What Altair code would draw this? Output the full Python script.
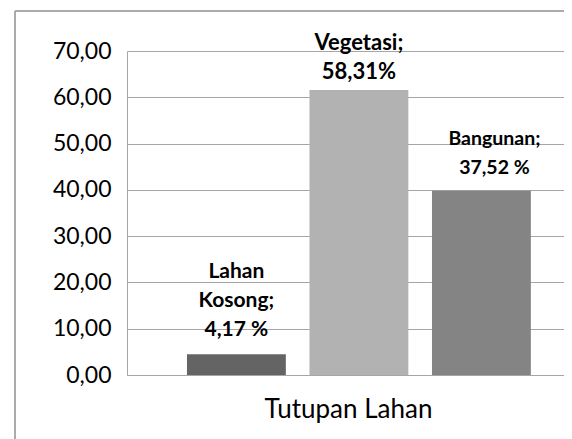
import altair as alt
import pandas as pd

categories = ["Lahan Kosong", "Vegetasi", "Bangunan"]
values = [4.5, 61.6, 39.8]
labels = [["Lahan", "Kosong;", "4,17 %"], ["Vegetasi;", "58,31%"], ["Bangunan;", "37,52 %"]]
colors = ["#646464", "#b2b2b2", "#848484"]
y_ticks = [0, 10, 20, 30, 40, 50, 60, 70]

df = pd.DataFrame({"cat": categories, "value": values, "label": labels})

W, H = 437, 324
grid_col = "#a6a6a6"

x_enc = alt.X(
    "cat:N", sort=categories,
    scale=alt.Scale(paddingInner=0.193, paddingOuter=0.38, align=0.644),
    axis=alt.Axis(labels=False, ticks=False, domain=True, domainColor=grid_col,
                  title="Tutupan Lahan", titleFont="Lato", titleFontSize=26,
                  titleFontWeight="normal", titleColor="black", titleX=221, titleY=42,
                  titleBaseline="alphabetic", titleAlign="center", grid=False),
)
y_enc = alt.Y(
    "value:Q", scale=alt.Scale(domain=[0, 70]),
    axis=alt.Axis(values=y_ticks, labelExpr="replace(format(datum.value, '.2f'), '.', ',')",
                  ticks=False, labelPadding=16, labelFont="Lato", labelFontSize=23,
                  labelColor="black", gridColor=grid_col, domainColor=grid_col, title=None),
)

base = alt.Chart(df)
bars = base.mark_bar().encode(
    x=x_enc, y=y_enc,
    color=alt.Color("cat:N", scale=alt.Scale(domain=categories, range=colors), legend=None),
)

label_style = {
    "Lahan Kosong": dict(fontSize=21, dy=-76, dx=0),
    "Vegetasi": dict(fontSize=22, dy=-40, dx=0),
    "Bangunan": dict(fontSize=19.5, dy=-46, dx=13),
}
texts = []
for c in categories:
    s = label_style[c]
    texts.append(
        base.transform_filter(alt.datum.cat == c).mark_text(
            font="Lato", fontWeight="bold", fontSize=s["fontSize"], lineHeight=29,
            baseline="alphabetic", dy=s["dy"], dx=s["dx"], color="black",
        ).encode(x=alt.X("cat:N", sort=categories), y="value:Q", text="label")
    )

frame_left = base.mark_rule(color="#a0a0a0").encode(
    x=alt.value(-112), y=alt.value(-40), y2=alt.value(388))
frame_top = base.mark_rule(color="#a0a0a0").encode(
    x=alt.value(-112), x2=alt.value(W), y=alt.value(-40))

chart = alt.layer(bars, *texts, frame_left, frame_top).properties(
    width=W, height=H,
    autosize=alt.AutoSizeParams(type="none"),
    padding={"left": 119, "top": 43, "right": 0, "bottom": 64},
    background="white",
).configure_view(stroke=None)

chart.save("out.html", embed_options={"renderer": "svg", "actions": False})
